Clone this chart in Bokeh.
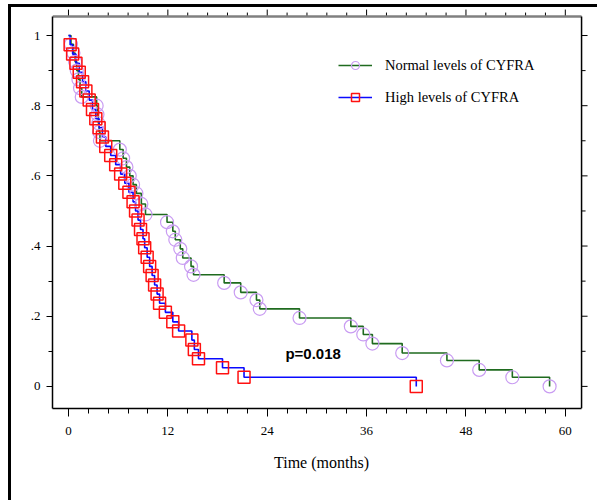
from bokeh.plotting import figure
from bokeh.models import (Range1d, LinearAxis, FixedTicker, CustomJSTickFormatter,
                          Legend, LegendItem, Label)
from bokeh.embed import file_html
from bokeh.resources import INLINE

# Kaplan-Meier curves (time in months, survival proportion)
normal_time = [0, 0.3, 0.6, 0.8, 1.0, 1.2, 1.4, 1.6, 3.4, 3.5, 3.6, 3.7, 3.8, 6.2, 6.6,
               7.0, 7.4, 7.8, 8.2, 8.8, 9.3, 11.9, 12.6, 12.9, 13.5, 13.8, 14.8, 15.1,
               18.8, 20.8, 22.7, 23.1, 27.9, 34.1, 35.6, 36.7, 40.3, 45.7, 49.6, 53.6, 58.1]
normal_surv = [1.0, 0.975, 0.95, 0.925, 0.9, 0.875, 0.85, 0.825, 0.8, 0.775, 0.75, 0.725, 0.7,
               0.675, 0.65, 0.625, 0.6, 0.575, 0.55, 0.52, 0.49, 0.468, 0.442, 0.418, 0.392,
               0.366, 0.342, 0.318, 0.295, 0.268, 0.246, 0.221, 0.195, 0.171, 0.148, 0.122,
               0.095, 0.074, 0.047, 0.026, 0.0]

high_time = [0, 0.2, 0.5, 0.9, 1.3, 1.7, 2.1, 2.5, 2.9, 3.3, 3.7, 4.1, 4.5, 5.1, 5.7, 6.3,
             6.8, 7.3, 7.8, 8.1, 8.4, 8.7, 9.0, 9.2, 9.5, 9.8, 10.1, 10.4, 10.7, 11.0, 11.7,
             12.6, 13.3, 14.9, 15.2, 15.7, 18.6, 21.2, 42.0]
high_surv = [1.0, 0.974, 0.947, 0.921, 0.895, 0.868, 0.842, 0.816, 0.789, 0.763, 0.737, 0.711,
             0.684, 0.658, 0.632, 0.605, 0.579, 0.553, 0.526, 0.500, 0.474, 0.447, 0.421, 0.395,
             0.368, 0.342, 0.316, 0.289, 0.263, 0.237, 0.211, 0.184, 0.158, 0.132, 0.105,
             0.079, 0.053, 0.026, 0.0]

x_ticks = [0, 12, 24, 36, 48, 60]
x_minor = [2.4, 4.8, 7.2, 9.6, 14.4, 16.8, 19.2, 21.6, 26.4, 28.8, 31.2, 33.6,
           38.4, 40.8, 43.2, 45.6, 50.4, 52.8, 55.2, 57.6]
y_ticks = [0, 0.2, 0.4, 0.6, 0.8, 1.0]
y_minor = [0.1, 0.3, 0.5, 0.7, 0.9]

label_normal = "Normal levels of CYFRA"
label_high = "High levels of CYFRA"
p_text = "p=0.018"
x_title = "Time (months)"

SERIF = "Liberation Serif"

# visible box limits in data units (the frame is a little larger so that the
# outward ticks of the top and right axes fit inside it)
X0, X1 = -1.93, 61.96
Y0, Y1 = -0.063, 1.054
XF1 = 63.04
YF1 = 1.077
PX_X = 8.28   # pixels per month
PX_Y = 351.0  # pixels per unit survival

p = figure(width=589, height=496, output_backend="svg", toolbar_location=None,
           x_range=Range1d(X0, XF1), y_range=Range1d(Y0, YF1),
           min_border_left=41, min_border_right=10, min_border_top=1, min_border_bottom=95,
           x_axis_location=None, y_axis_location=None)
# black rules at the top and left edge of the picture
p.styles = {"margin-left": "8px", "margin-top": "4px",
            "border-left": "3px solid black", "border-top": "3px solid black"}
p.xgrid.visible = False
p.ygrid.visible = False
p.outline_line_color = None
p.background_fill_color = "white"
p.border_fill_color = "white"

xt = FixedTicker(ticks=x_ticks, minor_ticks=x_minor)
yt = FixedTicker(ticks=y_ticks, minor_ticks=y_minor)
yfmt = CustomJSTickFormatter(code="""
    if (tick == 0) return "0";
    if (Math.abs(tick - 1) < 1e-9) return "1";
    return tick.toFixed(1).replace(/^0/, "");
""")

def style_axis(ax):
    ax.axis_line_color = "black"
    ax.axis_line_width = 1.5
    ax.major_tick_line_color = "black"
    ax.minor_tick_line_color = "black"
    ax.major_tick_in = 0
    ax.minor_tick_in = 0
    ax.major_label_text_font = SERIF
    ax.major_label_text_font_size = "13px"
    ax.major_label_text_color = "black"

bottom = LinearAxis(ticker=xt, axis_label=x_title)
style_axis(bottom)
bottom.major_tick_out = 8
bottom.minor_tick_out = 5
bottom.major_label_standoff = 10
bottom.axis_label_standoff = 16
bottom.axis_label_text_font = SERIF
bottom.axis_label_text_font_size = "16px"
bottom.axis_label_text_font_style = "normal"
bottom.axis_label_text_color = "black"
bottom.bounds = (X0, X1)
p.add_layout(bottom, "below")

left = LinearAxis(ticker=yt, formatter=yfmt)
style_axis(left)
left.major_tick_out = 6
left.minor_tick_out = 4
left.major_label_standoff = 6
left.bounds = (Y0, Y1)
p.add_layout(left, "left")

# top and right axes of the box, drawn inside the enlarged frame
all_x = x_ticks + x_minor
len_x = [7 if v in x_ticks else 4 for v in all_x]
p.segment(x0=all_x, y0=[Y1] * len(all_x), x1=all_x,
          y1=[Y1 + L / PX_Y for L in len_x], line_color="black", line_width=1)
p.segment(x0=[X0], y0=[Y1], x1=[X1], y1=[Y1], line_color="#808080", line_width=2.5)

all_y = y_ticks + y_minor
len_y = [6 if v in y_ticks else 4 for v in all_y]
p.segment(x0=[X1] * len(all_y), y0=all_y, x1=[X1 + L / PX_X for L in len_y],
          y1=all_y, line_color="black", line_width=1)
p.segment(x0=[X1], y0=[Y0], x1=[X1], y1=[Y1], line_color="black", line_width=1.5)

GREEN = "#1f6b1f"
BLUE = "#0a0aff"
LAVENDER = "#c99cf2"
RED = "#ff1010"

ln = p.step(normal_time, normal_surv, mode="after", line_color=GREEN, line_width=1.6)
lh = p.step(high_time, high_surv, mode="after", line_color=BLUE, line_width=1.6)
mn = p.scatter(normal_time[1:], normal_surv[1:], marker="circle", size=13,
               fill_color=None, line_color=LAVENDER, line_width=1.2)
mh = p.scatter(high_time[1:], high_surv[1:], marker="square", size=12,
               fill_color=None, line_color=RED, line_width=1.5)

legend = Legend(items=[LegendItem(label=label_normal, renderers=[ln, mn]),
                       LegendItem(label=label_high, renderers=[lh, mh])],
                location=(286, 301), orientation="vertical")
legend.border_line_color = None
legend.background_fill_alpha = 0
legend.padding = 0
legend.margin = 0
legend.spacing = 12
legend.glyph_width = 34
legend.glyph_height = 20
legend.label_standoff = 13
legend.label_text_font = SERIF
legend.label_text_font_size = "14.5px"
legend.label_text_color = "black"
legend.label_height = 20
p.add_layout(legend, "center")

p.add_layout(Label(x=26.2, y=0.094, text=p_text, text_font="Liberation Sans",
                   text_font_style="bold", text_font_size="15px", text_color="black",
                   text_baseline="middle", text_align="left"))

open("out.html", "w").write(file_html(p, INLINE))
